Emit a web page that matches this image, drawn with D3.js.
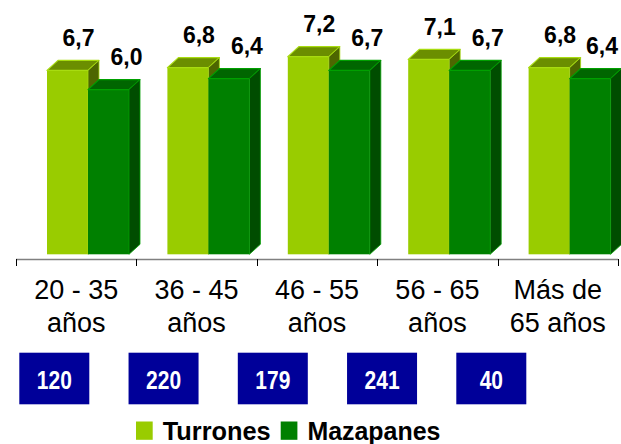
<!DOCTYPE html>
<html>

<head>
    <meta charset="utf-8" />
    <style>
        body {
            margin: 0;
            background-color: white;
        }
        text {
            font-family: "Liberation Sans", Arial, sans-serif;
        }
    </style>
    <script src="https://d3js.org/d3.v7.min.js"></script>
</head>

<body>
    <script>
        // data
        var categories = [["20 - 35", "años"], ["36 - 45", "años"], ["46 - 55", "años"], ["56 - 65", "años"], ["Más de", "65 años"]];
        var series = ["Turrones", "Mazapanes"];
        var turrones = [6.7, 6.8, 7.2, 7.1, 6.8];
        var mazapanes = [6.0, 6.4, 6.7, 6.7, 6.4];
        var sampleSizes = [120, 220, 179, 241, 40];

        var width = 621,
            height = 444;

        var colors = {
            Turrones: { front: "#99cc00", top: "#6b8e00", side: "#4d6600", edge: "#a8dc10" },
            Mazapanes: { front: "#008000", top: "#006600", side: "#004d00", edge: "#00a000" }
        };
        // label shift to the right of the front face centre, per series
        var labelShift = { Turrones: 11, Mazapanes: 18 };

        var dx = 11, dy = -10;

        var svg = d3.select("body").append("svg")
            .attr("width", width)
            .attr("height", height);

        var x = d3.scaleBand()
            .domain(d3.range(categories.length))
            .range([16, 618]);

        var xs = d3.scaleBand()
            .domain(series)
            .range([31, 113]);

        var y = d3.scaleLinear()
            .domain([0, 8])
            .range([254.3, 254.3 - 8 * 27.45]);

        var rows = [];
        categories.forEach(function (c, i) {
            rows.push({ i: i, s: "Turrones", v: turrones[i] });
            rows.push({ i: i, s: "Mazapanes", v: mazapanes[i] });
        });

        var bars = svg.append("g").selectAll("g")
            .data(rows)
            .enter().append("g");

        bars.each(function (d) {
            var g = d3.select(this);
            var x0 = x(d.i) + xs(d.s),
                w = xs.bandwidth(),
                yt = y(d.v),
                yb = y(0),
                c = colors[d.s];
            g.append("rect")
                .attr("x", x0).attr("y", yt)
                .attr("width", w).attr("height", yb - yt)
                .attr("fill", c.front);
            g.append("polygon")
                .attr("points", [[x0, yt], [x0 + dx, yt + dy], [x0 + w + dx, yt + dy], [x0 + w, yt]].join(" "))
                .attr("fill", c.top)
                .attr("stroke", c.edge)
                .attr("stroke-width", 1.2)
                .attr("stroke-linejoin", "round");
            g.append("polygon")
                .attr("points", [[x0 + w, yt], [x0 + w + dx, yt + dy], [x0 + w + dx, yb + dy], [x0 + w, yb]].join(" "))
                .attr("fill", c.side)
                .attr("stroke", c.edge)
                .attr("stroke-width", 0.8);
        });

        // value labels (kept inside the picture on the right)
        svg.append("g").selectAll("text")
            .data(rows)
            .enter().append("text")
            .attr("x", function (d) {
                var cx = x(d.i) + xs(d.s) + xs.bandwidth() / 2 + labelShift[d.s];
                return Math.min(cx, width - 19);
            })
            .attr("y", function (d) { return y(d.v) - 24.5; })
            .attr("text-anchor", "middle")
            .attr("font-size", "23px")
            .attr("font-weight", "bold")
            .attr("fill", "#000")
            .text(function (d) { return d.v.toFixed(1).replace(".", ","); });

        // category axis
        var axis = svg.append("g");
        axis.append("line")
            .attr("x1", x.range()[0]).attr("x2", x.range()[1])
            .attr("y1", 259.5).attr("y2", 259.5)
            .attr("stroke", "#808080")
            .attr("stroke-width", 1.5);
        axis.selectAll(".tick")
            .data(d3.range(categories.length + 1))
            .enter().append("line")
            .attr("class", "tick")
            .attr("x1", function (d) { return Math.round(x.range()[0] + d * x.step()) + 0.5; })
            .attr("x2", function (d) { return Math.round(x.range()[0] + d * x.step()) + 0.5; })
            .attr("y1", 259).attr("y2", 266)
            .attr("stroke", "#000");

        var catLabels = axis.selectAll(".cat")
            .data(categories)
            .enter().append("text")
            .attr("class", "cat")
            .attr("text-anchor", "middle")
            .attr("font-size", "27px")
            .attr("fill", "#000");
        catLabels.append("tspan")
            .attr("x", function (d, i) { return x(i) + x.bandwidth() / 2; })
            .attr("y", 299)
            .text(function (d) { return d[0]; });
        catLabels.append("tspan")
            .attr("x", function (d, i) { return x(i) + x.bandwidth() / 2; })
            .attr("y", 332)
            .text(function (d) { return d[1]; });

        // sample size boxes
        var bx = d3.scalePoint()
            .domain(d3.range(sampleSizes.length))
            .range([54.3, 491.3]);

        var boxes = svg.append("g").selectAll("g")
            .data(sampleSizes)
            .enter().append("g")
            .attr("transform", function (d, i) { return "translate(" + bx(i) + ",0)"; });
        boxes.append("rect")
            .attr("x", -35).attr("y", 352.7)
            .attr("width", 70).attr("height", 51.6)
            .attr("fill", "#000099");
        boxes.append("text")
            .attr("transform", "translate(0,389) scale(0.84,1)")
            .attr("text-anchor", "middle")
            .attr("font-size", "25px")
            .attr("font-weight", "bold")
            .attr("fill", "#fff")
            .text(function (d) { return d; });

        // legend
        var legendX = [136, 280.7];
        var legendW = [108, 133];
        var legend = svg.append("g").selectAll("g")
            .data(series)
            .enter().append("g")
            .attr("transform", function (d, i) { return "translate(" + legendX[i] + ",0)"; });
        legend.append("rect")
            .attr("x", 0).attr("y", 421.5)
            .attr("width", 16.7).attr("height", 18.3)
            .attr("fill", function (d) { return colors[d].front; });
        legend.append("text")
            .attr("x", 26.7).attr("y", 439.5)
            .attr("font-size", "26px")
            .attr("font-weight", "bold")
            .attr("fill", "#000")
            .attr("textLength", function (d, i) { return legendW[i]; })
            .attr("lengthAdjust", "spacingAndGlyphs")
            .text(function (d) { return d; });
    </script>
</body>

</html>
